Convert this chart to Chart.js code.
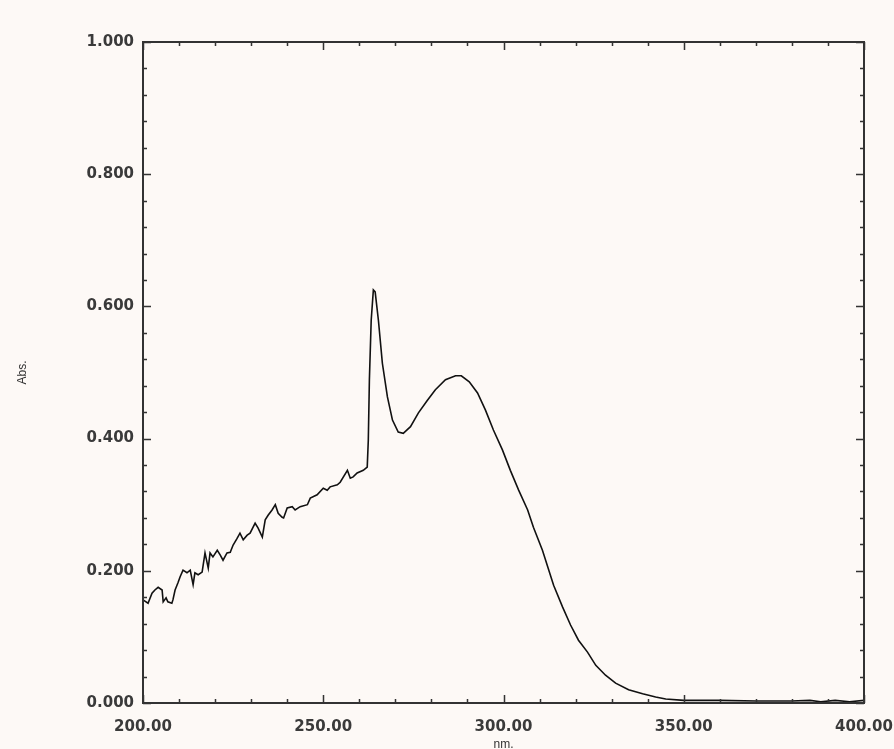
<!DOCTYPE html>
<html>
<head>
<meta charset="utf-8">
<title>Abs. spectrum</title>
<script src="https://cdn.jsdelivr.net/npm/chart.js@4.4.1/dist/chart.umd.min.js"></script>
<style>
    html, body { margin: 0; padding: 0; background: #fdf9f6; }
    canvas { display: block; }
</style>
</head>
<body>
<canvas id="spectrumChart" width="894" height="749"></canvas>
<script>
// Spectrum data (nm / Abs.)
const wavelengths = [
    200, 201.4, 202.5, 203.3, 204.2, 205.3, 205.6, 206.4, 206.9, 208, 208.3, 208.9, 209.7, 210.3,
    211.1, 212.2, 213.1, 213.9, 214.4, 215.3, 216.4, 217.2, 218.1, 218.6, 219.4, 220.6, 221.4, 222.2,
    223.3, 224.2, 225, 226.1, 226.9, 227.8, 228.9, 229.7, 231.1, 231.9, 233.1, 233.9, 234.7, 235.8,
    236.7, 237.5, 238.6, 239, 240, 241.4, 242.2, 243.6, 245.6, 246.4, 248.3, 250, 251.1, 251.9,
    253.9, 254.7, 256.7, 257.5, 258.3, 259.4, 261.1, 262.2, 262.5, 262.8, 263.3, 263.9, 264.4, 265.3,
    266.4, 267.8, 269.2, 270.8, 272.2, 274.2, 276.4, 278.9, 281.1, 283.9, 286.7, 288.3, 290.5, 292.8,
    295, 297.2, 299.7, 301.9, 304.2, 306.7, 308.3, 310.8, 313.9, 316.4, 318.6, 320.8, 323.3, 325.6,
    328.3, 331.1, 334.7, 338.6, 342.2, 345, 350, 360, 370, 380, 385, 388, 392, 396, 400
];
const absorbance = [
    0.156, 0.151, 0.166, 0.171, 0.175, 0.171, 0.153, 0.159, 0.153, 0.151, 0.156, 0.171, 0.182, 0.191,
    0.201, 0.197, 0.201, 0.179, 0.197, 0.194, 0.198, 0.227, 0.204, 0.227, 0.221, 0.231, 0.224, 0.216,
    0.227, 0.228, 0.239, 0.249, 0.257, 0.247, 0.254, 0.257, 0.272, 0.265, 0.251, 0.277, 0.284, 0.292,
    0.300, 0.287, 0.281, 0.280, 0.295, 0.297, 0.292, 0.297, 0.300, 0.310, 0.315, 0.325, 0.322, 0.327,
    0.330, 0.334, 0.352, 0.340, 0.342, 0.348, 0.352, 0.357, 0.398, 0.489, 0.579, 0.625, 0.622, 0.579,
    0.514, 0.463, 0.428, 0.410, 0.408, 0.418, 0.439, 0.458, 0.474, 0.489, 0.495, 0.495, 0.486, 0.469,
    0.443, 0.413, 0.383, 0.352, 0.322, 0.292, 0.266, 0.231, 0.178, 0.145, 0.118, 0.095, 0.077, 0.057,
    0.042, 0.030, 0.020, 0.014, 0.009, 0.006, 0.004, 0.004, 0.003, 0.003, 0.004, 0.002, 0.004, 0.002, 0.004
];

// Tick labels
const xTickValues = [200, 250, 300, 350, 400];
const yTickValues = [0, 0.2, 0.4, 0.6, 0.8, 1.0];

const axisColor = '#333333';
const labelFont = { family: "'DejaVu Sans', sans-serif", size: 15, weight: 'bold' };
const titleFont = { family: "'Liberation Sans', Arial, sans-serif", size: 12 };

// Box frame with inward ticks on all four sides
const frameTicks = {
    id: 'frameTicks',
    afterDraw(chart) {
        const { ctx, chartArea: a, scales: { x, y } } = chart;
        ctx.save();
        ctx.strokeStyle = axisColor;
        ctx.lineWidth = 1.5;
        ctx.beginPath();
        for (let i = 0; i <= 20; i++) {
            const px = Math.round(x.getPixelForValue(200 + i * 10)) + 0.5;
            const len = i % 5 === 0 ? 8 : 4;
            ctx.moveTo(px, a.bottom); ctx.lineTo(px, a.bottom - len);
            ctx.moveTo(px, a.top); ctx.lineTo(px, a.top + len);
        }
        for (let i = 0; i <= 25; i++) {
            const py = Math.round(y.getPixelForValue(i * 0.04)) + 0.5;
            const len = i % 5 === 0 ? 8 : 4;
            ctx.moveTo(a.left, py); ctx.lineTo(a.left + len, py);
            ctx.moveTo(a.right, py); ctx.lineTo(a.right - len, py);
        }
        ctx.stroke();
        ctx.lineWidth = 2;
        ctx.strokeRect(a.left, a.top, a.right - a.left, a.bottom - a.top);
        ctx.restore();
    }
};

new Chart(document.getElementById('spectrumChart'), {
    type: 'line',
    data: {
        datasets: [{
            data: wavelengths.map((w, i) => ({ x: w, y: absorbance[i] })),
            borderColor: '#111111',
            borderWidth: 1.6,
            pointRadius: 0,
            tension: 0,
            fill: false
        }]
    },
    options: {
        responsive: false,
        animation: false,
        layout: { padding: { top: 42, right: 30, left: 0, bottom: 0 } },
        plugins: {
            legend: { display: false },
            tooltip: { enabled: false }
        },
        scales: {
            x: {
                type: 'linear',
                min: 200,
                max: 400,
                grid: { display: false, drawTicks: false },
                border: { display: false },
                afterBuildTicks: s => { s.ticks = xTickValues.map(v => ({ value: v })); },
                afterFit: s => {
                    s.height = 46;
                    s.paddingLeft = 0;
                    s.paddingRight = 0;
                },
                ticks: {
                    callback: v => Number(v).toFixed(2),
                    font: labelFont,
                    color: '#3a3a3a',
                    padding: 15,
                    maxRotation: 0,
                    autoSkip: false
                },
                title: {
                    display: true,
                    text: 'nm.',
                    font: titleFont,
                    color: '#333333',
                    padding: { top: 0, bottom: -3 }
                }
            },
            y: {
                min: 0,
                max: 1,
                grid: { display: false, drawTicks: false },
                border: { display: false },
                afterBuildTicks: s => { s.ticks = yTickValues.map(v => ({ value: v })); },
                afterFit: s => {
                    s.width = 143;
                    s.paddingTop = 0;
                    s.paddingBottom = 0;
                },
                ticks: {
                    callback: v => Number(v).toFixed(3),
                    font: labelFont,
                    color: '#3a3a3a',
                    padding: 9,
                    autoSkip: false
                },
                title: {
                    display: true,
                    text: 'Abs.',
                    font: titleFont,
                    color: '#333333',
                    padding: { top: 15, bottom: 0 }
                }
            }
        }
    },
    plugins: [frameTicks]
});
</script>
</body>
</html>
